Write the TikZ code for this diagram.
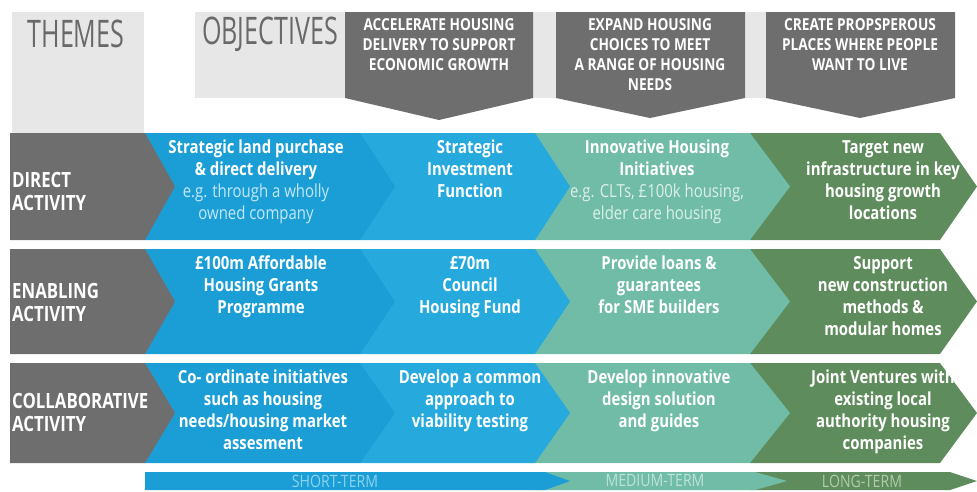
\documentclass[tikz,border=0pt]{standalone}
\usepackage{fontspec}
\setmainfont{Open Sans}
\newfontfamily\condA[FakeStretch=0.83]{Open Sans}
\newfontfamily\condL[FakeStretch=0.8]{Open Sans}
\newfontfamily\condT[FakeStretch=0.66]{Open Sans}
\definecolor{dgray}{RGB}{110,110,110}
\definecolor{lgray}{RGB}{231,231,231}
\definecolor{titlegray}{RGB}{105,105,105}
\definecolor{cblueA}{RGB}{27,158,214}
\definecolor{cblueB}{RGB}{38,170,222}
\definecolor{cteal}{RGB}{112,188,167}
\definecolor{cgreen}{RGB}{95,140,92}
\definecolor{subblue}{RGB}{196,232,248}
\definecolor{subteal}{RGB}{220,240,233}
\definecolor{tblue}{RGB}{140,212,242}
\definecolor{tteal}{RGB}{190,228,216}
\definecolor{tgreen}{RGB}{176,204,172}
\tikzset{
  hdr/.style={font=\condA\bfseries\fontsize{16.5}{20}\selectfont, text=white, align=center, anchor=north, inner sep=0pt},
  cell/.style={font=\condA\bfseries\fontsize{18}{22}\selectfont, text=white, align=center, anchor=north, inner sep=0pt},
  lab/.style={font=\condL\bfseries\fontsize{21}{23}\selectfont, text=white, align=left, anchor=west, inner sep=0pt},
  big/.style={font=\condT\fontsize{38}{40}\selectfont, text=titlegray, inner sep=0pt},
  term/.style={font=\condA\fontsize{17}{17}\selectfont, inner sep=0pt}
}
\newcommand\subline[2]{\textcolor{#1}{\mdseries #2}}
\begin{document}
\begin{tikzpicture}[x=1pt,y=-1pt]
\useasboundingbox (0,0) rectangle (977,491);
% header backgrounds
\fill[lgray] (12,12) rectangle (144,133);
\fill[lgray] (195,12) rectangle (955,98);
\fill[dgray] (345,12) -- (533,12) -- (533,98) -- (439,120) -- (345,98) -- cycle;
\fill[dgray] (556,12) -- (745,12) -- (745,98) -- (650,118) -- (556,98) -- cycle;
\fill[dgray] (766,12) -- (955,12) -- (955,98) -- (860,118) -- (766,98) -- cycle;
\node[big] (themes) at (76,34) {THEMES};
\node[big] (objectives) at (270,34) {OBJECTIVES};
\node[hdr] (h1) at (439,18) {ACCELERATE HOUSING\\DELIVERY TO SUPPORT\\ECONOMIC GROWTH};
\node[hdr] (h2) at (650,18) {EXPAND HOUSING\\CHOICES TO MEET\\A RANGE OF HOUSING\\NEEDS};
\node[hdr] (h3) at (860,18) {CREATE PROPSPEROUS\\PLACES WHERE PEOPLE\\WANT TO LIVE};
% rows
\foreach \t/\b in {133/240, 249/354, 363/463} {
  \pgfmathsetmacro\m{(\t+\b)/2}
  \fill[cgreen] (750,\t) -- (940,\t) -- (977,\m) -- (940,\b) -- (750,\b) -- cycle;
  \fill[cteal] (535,\t) -- (750,\t) -- (790,\m) -- (750,\b) -- (535,\b) -- cycle;
  \fill[cblueB] (360,\t) -- (535,\t) -- (570,\m) -- (535,\b) -- (360,\b) -- cycle;
  \fill[cblueA] (145,\t) -- (360,\t) -- (395,\m) -- (360,\b) -- (145,\b) -- cycle;
  \fill[dgray] (10,\t) -- (145,\t) -- (175,\m) -- (145,\b) -- (10,\b) -- cycle;
}
% row labels
\node[lab] (l1) at (12,191) {DIRECT\\ACTIVITY};
\node[lab] (l2) at (12,302) {ENABLING\\ACTIVITY};
\node[lab] (l3) at (12,412) {COLLABORATIVE\\ACTIVITY};
% row 1
\node[cell] (c11) at (256,140) {Strategic land purchase\\\& direct delivery\\\subline{subblue}{e.g. through a wholly}\\\subline{subblue}{owned company}};
\node[cell] (c12) at (470,140) {Strategic\\Investment\\Function};
\node[cell] (c13) at (657,140) {Innovative Housing\\Initiatives\\\subline{subteal}{e.g. CLTs, £100k housing,}\\\subline{subteal}{elder care housing}};
\node[cell] (c14) at (883,140) {Target new\\infrastructure in key\\housing growth\\locations};
% row 2
\node[cell] (c21) at (261,256) {£100m Affordable\\Housing Grants\\Programme};
\node[cell] (c22) at (470,256) {£70m\\Council\\Housing Fund};
\node[cell] (c23) at (659,256) {Provide loans \&\\guarantees\\for SME builders};
\node[cell] (c24) at (883,256) {Support\\new construction\\methods \&\\modular homes};
% row 3
\node[cell] (c31) at (263,370) {Co- ordinate initiatives\\such as housing\\needs/housing market\\assesment};
\node[cell] (c32) at (470,370) {Develop a common\\approach to\\viability testing};
\node[cell] (c33) at (659,370) {Develop innovative\\design solution\\and guides};
\node[cell] (c34) at (883,370) {Joint Ventures with\\existing local\\authority housing\\companies};
% bottom bar
\fill[cgreen] (750,472) -- (950,472) -- (977,481) -- (950,490) -- (750,490) -- cycle;
\fill[cteal] (535,472) -- (755,472) -- (787,481) -- (755,490) -- (535,490) -- cycle;
\fill[cblueA] (145,472) -- (545,472) -- (570,481) -- (545,490) -- (145,490) -- cycle;
\node[term, text=tblue] (st) at (335,481) {SHORT-TERM};
\node[term, text=tteal] (mt) at (655,481) {MEDIUM-TERM};
\node[term, text=tgreen] (lt) at (862,481) {LONG-TERM};
\end{tikzpicture}
\end{document}
